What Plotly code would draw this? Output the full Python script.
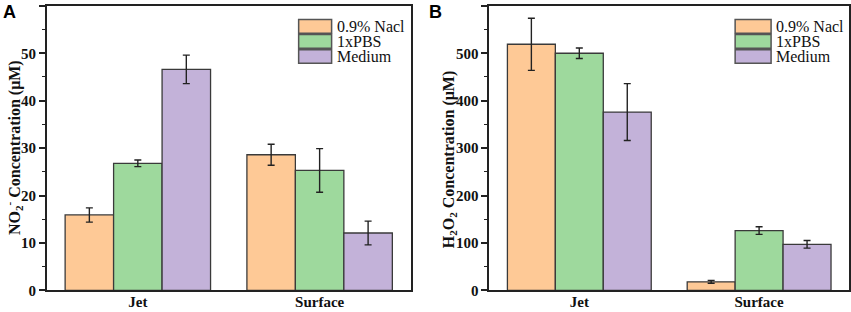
import plotly.graph_objects as go

categories = ["Jet", "Surface"]
series_names = ["0.9% Nacl", "1xPBS", "Medium"]
colors = ["#FEC996", "#9ED99D", "#C3B2D9"]

# Panel A: NO2- concentration (uM)
no2_values = [[15.9, 28.6], [26.8, 25.3], [46.6, 12.1]]
no2_errors = [[1.5, 2.2], [0.7, 4.6], [3.0, 2.5]]

# Panel B: H2O2 concentration (uM)
h2o2_values = [[519, 18], [500, 126], [376, 97]]
h2o2_errors = [[55, 3], [11, 8], [60, 8]]

W, H = 851, 312
SERIF = "Liberation Serif"
EDGE = "#3a3a3a"

fig = go.Figure()

panels = [
    dict(vals=no2_values, errs=no2_errors, xa="x", ya="y"),
    dict(vals=h2o2_values, errs=h2o2_errors, xa="x2", ya="y2"),
]
for p in panels:
    for name, col, v, e in zip(series_names, colors, p["vals"], p["errs"]):
        fig.add_trace(go.Bar(
            x=categories, y=v, name=name, xaxis=p["xa"], yaxis=p["ya"],
            marker=dict(color=col, line=dict(color=EDGE, width=1.3)),
            error_y=dict(type="data", array=e, visible=True, color="#222222",
                         thickness=1.4, width=3.5),
            showlegend=False,
        ))

dom_a = [47 / W, 411 / W]
dom_b = [490 / W, 850 / W]
ydom = [(H - 298) / H, (H - 6) / H]

tickfont = dict(family=SERIF, size=15, color="#111111", weight="bold")

def xaxis(domain, anchor):
    return dict(domain=domain, anchor=anchor, range=[-0.5, 1.5],
                showline=True, linecolor="#222222", linewidth=2, mirror=True,
                ticks="", tickfont=tickfont, showgrid=False, zeroline=False,
                ticklabelstandoff=-3)

def yaxis(domain, anchor, rng, dtick, minor):
    return dict(domain=domain, anchor=anchor, range=rng, dtick=dtick,
                showline=True, linecolor="#222222", linewidth=2, mirror=True,
                ticks="outside", ticklen=6, tickwidth=1.5, tickcolor="#222222",
                minor=dict(dtick=minor, ticks="outside", ticklen=3, tickwidth=1.2,
                           tickcolor="#222222", showgrid=False),
                tickfont=tickfont, showgrid=False, zeroline=False)

fig.update_layout(
    width=W, height=H,
    margin=dict(l=0, r=0, t=0, b=0),
    paper_bgcolor="white", plot_bgcolor="white",
    barmode="group", bargap=0.2, bargroupgap=0,
    xaxis=xaxis(dom_a, "y"),
    yaxis=yaxis(ydom, "x", [0, 60], 10, 5),
    xaxis2=xaxis(dom_b, "y2"),
    yaxis2=yaxis(ydom, "x2", [0, 600], 100, 50),
    showlegend=False,
)

# Y-axis titles
fig.add_annotation(x=14 / W, y=(H - 151) / H, xref="paper", yref="paper", textangle=-90,
                   xanchor="center", yanchor="middle",
                   text="NO<sub>2</sub><sup>-</sup> Concentration (μM)", showarrow=False,
                   font=dict(family=SERIF, size=16, color="#111111", weight="bold"))
fig.add_annotation(x=450 / W, y=(H - 163) / H, xref="paper", yref="paper", textangle=-90,
                   xanchor="center", yanchor="middle",
                   text="H<sub>2</sub>O<sub>2</sub> Concentration (μM)", showarrow=False,
                   font=dict(family=SERIF, size=16, color="#111111", weight="bold"))

# Panel letters
fig.add_annotation(x=1 / W, y=1.0, xref="paper", yref="paper", xanchor="left", yanchor="top",
                   text="A", showarrow=False,
                   font=dict(family="Liberation Sans", size=18, color="#000000", weight="bold"))
fig.add_annotation(x=428 / W, y=1.0, xref="paper", yref="paper", xanchor="left", yanchor="top",
                   text="B", showarrow=False,
                   font=dict(family="Liberation Sans", size=18, color="#000000", weight="bold"))

# Custom legends (large swatches)
legend_specs = [(299, 332, 20), (736, 772, 20)]
for x0, x1, ytop in legend_specs:
    for i, (name, col) in enumerate(zip(series_names, colors)):
        t = ytop + i * 15.5
        b = t + 14
        fig.add_shape(type="rect", xref="paper", yref="paper",
                      x0=x0 / W, x1=x1 / W, y0=(H - b) / H, y1=(H - t) / H,
                      fillcolor=col, line=dict(color="#555555", width=1.5))
        fig.add_annotation(x=(x1 + 3) / W, y=(H - (t + b) / 2) / H, xref="paper", yref="paper",
                           xanchor="left", yanchor="middle", text=name, showarrow=False,
                           font=dict(family=SERIF, size=16, color="#111111"))

fig.write_html("out.html", config={"displayModeBar": False},
               post_script="document.body.style.margin='0';")
